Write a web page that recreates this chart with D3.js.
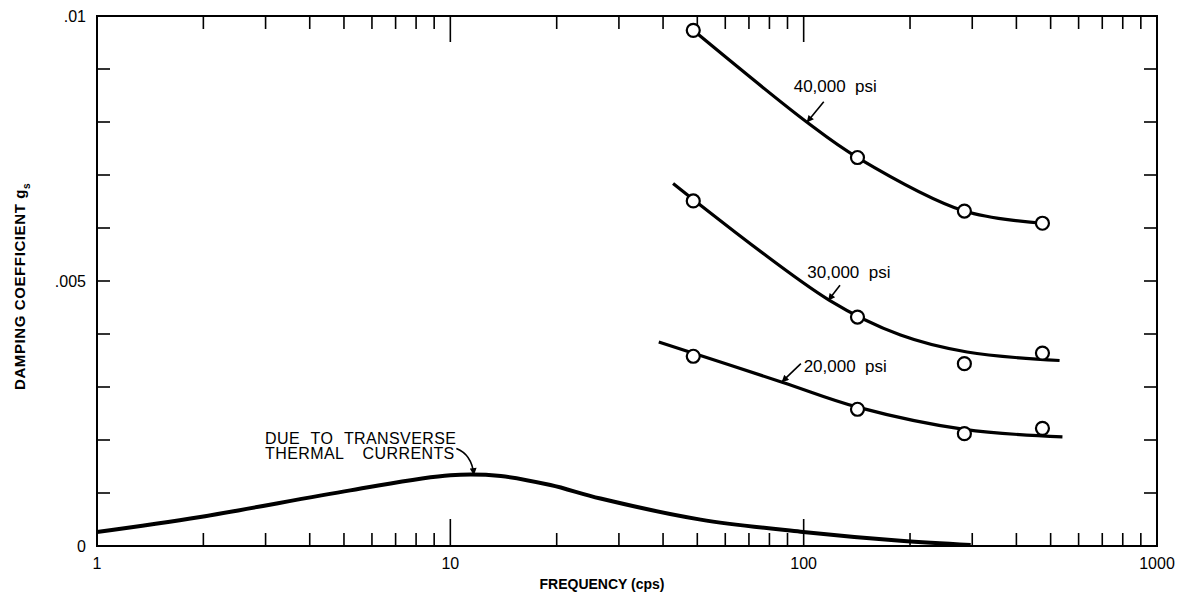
<!DOCTYPE html>
<html><head><meta charset="utf-8">
<script src="https://cdn.jsdelivr.net/npm/d3@7"></script>
<style>
html,body{margin:0;padding:0;background:#fff;}
svg{display:block;font-family:"Liberation Sans",Arial,sans-serif;}
</style></head>
<body><svg id="chart" width="1186" height="603"></svg>
<script>
// ---- data ----
const xTickValues = [1, 10, 100, 1000];
const xTickLabels = ["1", "10", "100", "1000"];
const yTickValues = [0, 0.005, 0.01];
const yTickLabels = ["0", ".005", ".01"];

// measured test points (frequency, damping)
const testFreq = [48.7, 142, 285, 474];
const pts40 = [0.00973, 0.00733, 0.00632, 0.00609];
const pts30 = [0.00651, 0.00432, 0.00344, 0.00364];
const pts20 = [0.00358, 0.00258, 0.00212, 0.00222];

// faired curves
const curve40F = [48.7, 102, 142, 285, 474];
const curve40V = [0.00973, 0.00800, 0.00733, 0.00632, 0.00609];
const curve30F = [42.7, 118, 188, 290, 530];
const curve30V = [0.00684, 0.00464, 0.00398, 0.00366, 0.00350];
const curve20F = [38.9, 86.9, 142, 285, 540];
const curve20V = [0.00385, 0.00309, 0.00262, 0.00220, 0.00206];
const thermalF = [1, 1.96, 5.21, 10, 13.9, 19.2, 26.6, 51.1, 98, 188, 297];
const thermalV = [0.000264, 0.000548, 0.00105, 0.001335, 0.00132, 0.00115, 0.000895, 0.000498, 0.00027, 0.0001, 0.00002];

// annotation labels: [text, freq, value] and arrows [tailF, tailV, tipF, tipV]
const labelTexts = ["40,000  psi", "30,000  psi", "20,000  psi"];
const labelF = [93.7, 102.4, 100];
const labelV = [0.00857, 0.00505, 0.00328];
const arrowTailF = [114, 126.7, 98.2];
const arrowTailV = [0.00838, 0.00492, 0.00344];
const arrowTipF = [102.3, 117.6, 86.9];
const arrowTipV = [0.00800, 0.00464, 0.00310];
const thermalLines = ["DUE TO TRANSVERSE", "THERMAL CURRENTS"];
const thermalLabelF = 2.99;
const thermalLabelV = [0.00193, 0.00164];
const thermalArrow = [10.4, 0.00184, 11.65, 0.00135];

// ---- layout ----
const svg = d3.select("#chart");
const L = 97, R = 1157, T = 16, B = 546;
const x = d3.scaleLog().domain([1, 1000]).range([L, R]);
const y = d3.scaleLinear().domain([0, 0.01]).range([B, T]);

svg.append("defs").append("marker")
  .attr("id", "ah").attr("viewBox", "0 0 10 10").attr("refX", 9).attr("refY", 5)
  .attr("markerWidth", 9).attr("markerHeight", 7).attr("markerUnits", "userSpaceOnUse")
  .attr("orient", "auto")
  .append("path").attr("d", "M0,0 L10,5 L0,10 z").attr("fill", "#000");

// ticks (inward, all four sides)
const minorX = [];
for (let d = 1; d < 1000; d *= 10) for (let k = 2; k <= 9; k++) minorX.push(d * k);
const majorX = [10, 100];
const yMinor = d3.range(1, 10).map(i => i * 0.001);

const g = svg.append("g").attr("stroke", "#000").attr("stroke-width", 1.6);
minorX.forEach(f => {
  g.append("line").attr("x1", x(f)).attr("x2", x(f)).attr("y1", B).attr("y2", B - 13);
  g.append("line").attr("x1", x(f)).attr("x2", x(f)).attr("y1", T).attr("y2", T + 13);
});
majorX.forEach(f => {
  g.append("line").attr("x1", x(f)).attr("x2", x(f)).attr("y1", B).attr("y2", B - 27);
  g.append("line").attr("x1", x(f)).attr("x2", x(f)).attr("y1", T).attr("y2", T + 26);
});
yMinor.forEach(v => {
  g.append("line").attr("x1", L).attr("x2", L + 13).attr("y1", y(v)).attr("y2", y(v));
  g.append("line").attr("x1", R).attr("x2", R - 13).attr("y1", y(v)).attr("y2", y(v));
});

// frame
svg.append("rect").attr("x", L).attr("y", T).attr("width", R - L).attr("height", B - T)
  .attr("fill", "none").attr("stroke", "#000").attr("stroke-width", 2);

// tick labels
svg.append("g").selectAll("text").data(xTickValues).join("text")
  .attr("x", d => x(d)).attr("y", 569).attr("text-anchor", "middle")
  .attr("font-size", 16).text((d, i) => xTickLabels[i]);
svg.append("g").selectAll("text").data(yTickValues).join("text")
  .attr("x", 86).attr("y", d => y(d) + 6).attr("text-anchor", "end")
  .attr("font-size", 16).text((d, i) => yTickLabels[i]);

// axis titles
svg.append("text").attr("x", 602).attr("y", 589).attr("text-anchor", "middle")
  .attr("font-size", 14).attr("font-weight", "bold").text("FREQUENCY (cps)");
const yt = svg.append("text").attr("transform", "translate(25,390) rotate(-90)")
  .attr("font-size", 15).attr("letter-spacing", 0.6).attr("font-weight", "bold");
yt.append("tspan").text("DAMPING COEFFICIENT  g");
yt.append("tspan").attr("dy", 5).attr("font-size", 10).text("s");

// curves
const line = d3.line().x(d => x(d[0])).y(d => y(d[1])).curve(d3.curveCatmullRom.alpha(0.5));
const curves = [[curve40F, curve40V, 3.2], [curve30F, curve30V, 3.2], [curve20F, curve20V, 3.2], [thermalF, thermalV, 4]];
curves.forEach(([F, V, w]) => {
  svg.append("path").datum(F.map((f, i) => [f, V[i]]))
    .attr("d", line).attr("fill", "none").attr("stroke", "#000").attr("stroke-width", w)
    .attr("stroke-linecap", "butt");
});

// test points
[pts40, pts30, pts20].forEach(P => {
  svg.append("g").selectAll("circle").data(P).join("circle")
    .attr("cx", (d, i) => x(testFreq[i])).attr("cy", d => y(d)).attr("r", 6.5)
    .attr("fill", "#fff").attr("stroke", "#000").attr("stroke-width", 2.2);
});

// labels + arrows
labelTexts.forEach((t, i) => {
  svg.append("text").attr("x", x(labelF[i])).attr("y", y(labelV[i]))
    .attr("font-size", 17).style("white-space", "pre").text(t);
  svg.append("line").attr("x1", x(arrowTailF[i])).attr("y1", y(arrowTailV[i]))
    .attr("x2", x(arrowTipF[i])).attr("y2", y(arrowTipV[i]))
    .attr("stroke", "#000").attr("stroke-width", 1.6).attr("marker-end", "url(#ah)");
});
thermalLines.forEach((t, i) => {
  svg.append("text").attr("x", x(thermalLabelF)).attr("y", y(thermalLabelV[i]))
    .attr("font-size", 16).attr("letter-spacing", 0.4)
    .attr("word-spacing", i === 0 ? 6 : 14).text(t);
});
{
  const [f1, v1, f2, v2] = thermalArrow;
  const x1 = x(f1), y1 = y(v1), x2 = x(f2), y2 = y(v2);
  svg.append("path").attr("d", `M${x1},${y1} Q${x2 - 2},${y1 + 6} ${x2},${y2}`)
    .attr("fill", "none").attr("stroke", "#000").attr("stroke-width", 1.6).attr("marker-end", "url(#ah)");
}
</script></body></html>
